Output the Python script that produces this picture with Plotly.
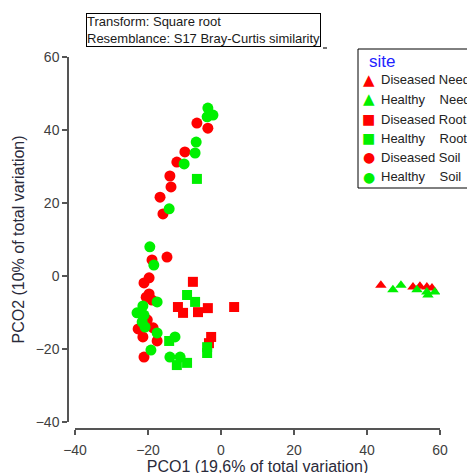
import plotly.graph_objects as go

W, H = 475, 473
OFF = 8  # page body margin in screen pixels

groups = ["Diseased Needle", "Healthy\u00a0\u00a0\u00a0\u00a0Needle", "Diseased Root",
          "Healthy\u00a0\u00a0\u00a0\u00a0Root", "Diseased Soil", "Healthy\u00a0\u00a0\u00a0\u00a0Soil"]
colors = ["#FF0000", "#00F000", "#FF0000", "#00F000", "#FF0000", "#00F000"]
symbols = ["triangle-up", "triangle-up", "square", "square", "circle", "circle"]
key_glyphs = ["\u25B2", "\u25B2", "\u25A0", "\u25A0", "\u25CF", "\u25CF"]
key_sizes = [15, 15, 14, 14, 14, 14]
sizes = [10, 10, 10, 10, 11, 11]

dn_x = [43.8, 52.6, 54.5, 56.4, 57.8]
dn_y = [-2.5, -3.0, -2.8, -3.0, -3.3]
hn_x = [47.1, 49.3, 53.7, 56.4, 58.6, 56.7]
hn_y = [-3.8, -2.5, -3.8, -4.4, -4.4, -5.2]

dr_x = [-7.7, -11.8, -10.4, -6.3, -3.6, 3.6, -2.7, -3.3]
dr_y = [-1.6, -8.5, -10.1, -9.9, -8.8, -8.5, -16.7, -18.4]
hr_x = [-6.6, -9.3, -7.1, -14.2, -3.8, -3.8, -12.1, -9.3]
hr_y = [26.6, -5.2, -7.1, -17.8, -19.5, -21.1, -24.4, -23.8]

ds_x = [-6.6, -3.6, -9.9, -12.1, -14.0, -13.7, -16.7, -15.9, -14.8, -18.9, -19.7, -21.1,
        -19.7, -20.5, -18.9, -22.7, -21.4, -18.6, -17.5, -21.1, -20.2]
ds_y = [41.9, 40.5, 34.0, 31.2, 27.4, 24.4, 21.6, 17.0, 5.2, 4.4, -0.5, -1.9,
        -4.9, -5.8, -6.6, -14.5, -16.7, -14.2, -17.8, -22.2, -12.0]
hs_x = [-3.6, -2.2, -3.8, -6.8, -7.1, -10.1, -14.2, -19.5, -18.4, -17.5, -21.4, -23.0,
        -21.1, -21.6, -20.8, -17.5, -19.2, -12.6, -14.0, -11.2]
hs_y = [46.0, 44.1, 43.6, 36.7, 33.7, 30.7, 18.4, 8.0, 3.0, -7.1, -8.2, -10.1,
        -10.7, -12.6, -14.0, -15.6, -20.3, -16.7, -22.2, -22.2]

xs = [dn_x, hn_x, dr_x, hr_x, ds_x, hs_x]
ys = [dn_y, hn_y, dr_y, hr_y, ds_y, hs_y]

x_ticks = [-40, -20, 0, 20, 40, 60]
y_ticks = [-40, -20, 0, 20, 40, 60]

FONT = "Liberation Sans, Arial, sans-serif"


def px(sx):
    return (sx - OFF) / W


def py(sy):
    return 1 - (sy - OFF) / H


fig = go.Figure()
for name, c, s, sz, x, y in zip(groups, colors, symbols, sizes, xs, ys):
    fig.add_trace(go.Scatter(
        x=x, y=y, mode="markers", name=name.replace("\u00a0\u00a0\u00a0\u00a0", " "),
        marker=dict(color=c, symbol=s, size=sz, line=dict(width=0)),
        showlegend=False,
    ))

axis_common = dict(
    range=[-40, 60], showgrid=False, zeroline=False, showline=True,
    linecolor="#555555", linewidth=1.5, ticks="outside", ticklen=5,
    tickcolor="#555555", tickwidth=1.5,
    tickfont=dict(family=FONT, size=14, color="#404040"),
    anchor="free",
)

# legend built as a boxed key: title, coloured glyphs and labels
annotations = [dict(
    xref="paper", yref="paper", x=px(86), y=py(13),
    xanchor="left", yanchor="top", align="left", showarrow=False,
    text="Transform: Square root<br>Resemblance: S17 Bray-Curtis similarity",
    font=dict(family=FONT, size=13, color="#1a1a1a"),
    bordercolor="black", borderwidth=1, borderpad=0, bgcolor="white",
), dict(
    xref="paper", yref="paper", x=px(367), y=py(61),
    xanchor="left", yanchor="middle", showarrow=False, text="site",
    font=dict(family=FONT, size=17, color="#2222FF"),
)]
row_y = [80, 99.3, 119, 138, 157.3, 176.7]
for name, c, g, gs, ry in zip(groups, colors, key_glyphs, key_sizes, row_y):
    annotations.append(dict(
        xref="paper", yref="paper", x=px(368.5), y=py(ry),
        xanchor="center", yanchor="middle", showarrow=False, text=g,
        font=dict(family="DejaVu Sans", size=gs, color=c),
    ))
    annotations.append(dict(
        xref="paper", yref="paper", x=px(379), y=py(ry),
        xanchor="left", yanchor="middle", showarrow=False, text=name,
        font=dict(family=FONT, size=13, color="#222222"),
    ))

fig.update_layout(
    width=W, height=H,
    margin=dict(l=0, r=0, t=0, b=0, autoexpand=False),
    paper_bgcolor="white", plot_bgcolor="white",
    font=dict(family=FONT, color="#333333"),
    showlegend=False,
    xaxis=dict(axis_common, domain=[px(75), px(440)], position=py(429),
               tickvals=x_ticks, ticklabelstandoff=3,
               title=dict(text="PCO1 (19,6% of total variation)",
                          font=dict(family=FONT, size=16, color="#2a2a3a"), standoff=2)),
    yaxis=dict(axis_common, domain=[py(422), py(57)], position=px(68),
               tickvals=y_ticks,
               title=dict(text="PCO2 (10% of total variation)",
                          font=dict(family=FONT, size=16, color="#2a2a3a"), standoff=6)),
    shapes=[dict(
        type="rect", xref="paper", yref="paper", layer="above",
        x0=px(358), x1=px(500), y0=py(188), y1=py(49),
        line=dict(color="black", width=1), fillcolor="white",
    ), dict(
        type="line", xref="paper", yref="paper", layer="above",
        x0=px(323), x1=px(327), y0=py(48), y1=py(48),
        line=dict(color="#444444", width=1.5),
    )],
    annotations=annotations,
)

fig.write_html("out.html")
